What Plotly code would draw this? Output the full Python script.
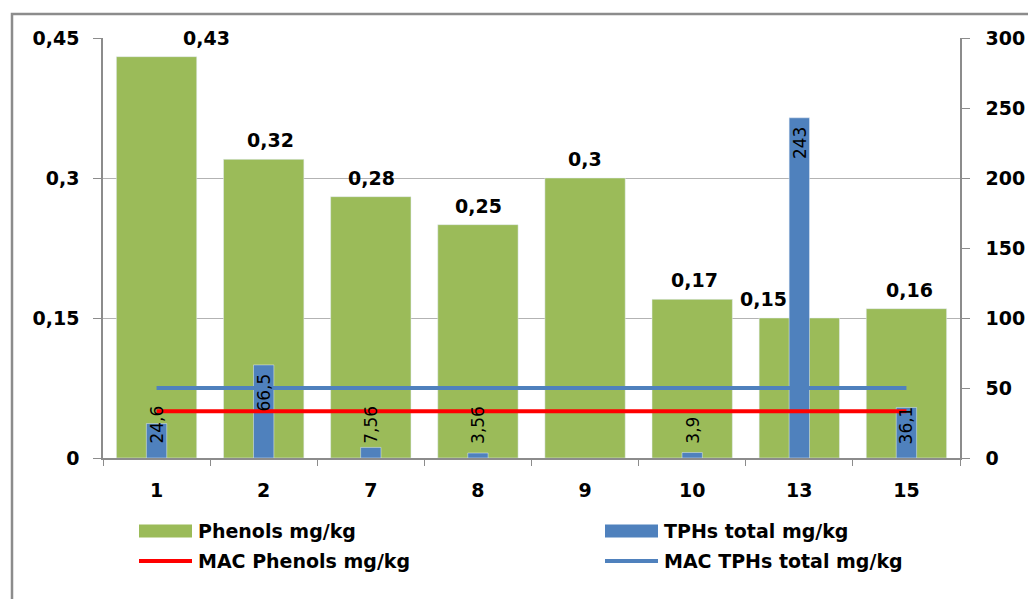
import plotly.graph_objects as go

# ---------------- data ----------------
categories = ["1", "2", "7", "8", "9", "10", "13", "15"]
phenols = [0.43, 0.32, 0.28, 0.25, 0.30, 0.17, 0.15, 0.16]
tphs = [24.6, 66.5, 7.56, 3.56, None, 3.9, 243, 36.1]
mac_phenols = [0.05, 0.05, 0.05, 0.05, 0.05, 0.05, 0.05, 0.05]
mac_tphs = [50, 50, 50, 50, 50, 50, 50, 50]

series_names = ["Phenols mg/kg", "TPHs total mg/kg", "MAC Phenols mg/kg", "MAC TPHs total mg/kg"]

# ---------------- style ----------------
GREEN = "#9BBB59"
BLUE = "#4F81BD"
RED = "#FF0000"
FONT = "DejaVu Sans"
W, H = 1028, 599
L, R, T, B = 103, 68, 38, 141
PW, PH = W - L - R, H - T - B

# label x nudges for phenol labels (pixels), as Excel placed them
phenol_label_shift = [50, 7, 1, 1, 0, 2, -36, 3]


def px_x(px):
    return (px - L) / PW


def px_y(py):
    return (H - B - py) / PH


fig = go.Figure()

fig.add_trace(go.Bar(
    x=categories, y=phenols, name=series_names[0], marker_color=GREEN,
    width=0.75, yaxis="y", showlegend=False,
))
fig.add_trace(go.Bar(
    x=categories, y=tphs, name=series_names[1], marker_color=BLUE,
    width=0.19, yaxis="y2", showlegend=False,
))
fig.add_trace(go.Scatter(
    x=categories, y=mac_tphs, name=series_names[3], mode="lines",
    line=dict(color=BLUE, width=4), yaxis="y2", showlegend=False,
))
fig.add_trace(go.Scatter(
    x=categories, y=mac_phenols, name=series_names[2], mode="lines",
    line=dict(color=RED, width=4), yaxis="y3", showlegend=False,
))

annotations = []
for i, (v, s) in enumerate(zip(phenols, phenol_label_shift)):
    annotations.append(dict(
        x=i, y=v, xref="x", yref="y", text=f"{v:g}".replace(".", ","),
        showarrow=False, yanchor="bottom", xanchor="center", yshift=6, xshift=s,
        font=dict(family=FONT, size=19, color="black", weight="bold"),
    ))

for i, v in enumerate(tphs):
    if v is None:
        continue
    if v >= 50:
        pos = dict(y=v, yanchor="top", yshift=-7)
    else:
        pos = dict(y=0, yanchor="bottom", yshift=12)
    annotations.append(dict(
        x=i, xref="x", yref="y2", text=f"{v:g}".replace(".", ","),
        showarrow=False, xanchor="center", textangle=-90,
        font=dict(family=FONT, size=17, color="black"), **pos,
    ))

# manual legend
legend_items = [
    (series_names[0], "bar", GREEN, 139, 531),
    (series_names[1], "bar", BLUE, 605, 531),
    (series_names[2], "line", RED, 139, 561),
    (series_names[3], "line", BLUE, 605, 561),
]
shapes = []
for name, kind, color, x0, yc in legend_items:
    if kind == "bar":
        shapes.append(dict(type="rect", xref="paper", yref="paper",
                           x0=px_x(x0), x1=px_x(x0 + 53), y0=px_y(yc + 6.5), y1=px_y(yc - 6.5),
                           fillcolor=color, line=dict(width=0)))
    else:
        shapes.append(dict(type="line", xref="paper", yref="paper",
                           x0=px_x(x0), x1=px_x(x0 + 53), y0=px_y(yc), y1=px_y(yc),
                           line=dict(color=color, width=4)))
    annotations.append(dict(
        x=px_x(x0 + 57), y=px_y(yc), xref="paper", yref="paper", text=name,
        showarrow=False, xanchor="left", yanchor="middle",
        font=dict(family=FONT, size=19, color="black", weight="bold"),
    ))

# outer chart border
shapes.append(dict(type="rect", xref="paper", yref="paper", layer="below",
                   x0=px_x(12), x1=px_x(W + 10), y0=px_y(H + 10), y1=px_y(14),
                   line=dict(color="#8c8c8c", width=2.5)))

tick_font = dict(family=FONT, size=19, color="black", weight="bold")

fig.update_layout(
    width=W, height=H,
    margin=dict(l=L, r=R, t=T, b=B, autoexpand=False),
    paper_bgcolor="white", plot_bgcolor="white",
    barmode="overlay",
    separators=", ",
    showlegend=False,
    annotations=annotations,
    shapes=shapes,
    font=dict(family=FONT, color="black"),
    xaxis=dict(
        type="category", tickson="boundaries", ticks="outside", ticklen=6,
        tickcolor="#8c8c8c", showline=True, linecolor="#8c8c8c", linewidth=1.5,
        showgrid=False, tickfont=tick_font, automargin=False,
        ticklabelstandoff=14, range=[-0.5, 7.5],
    ),
    yaxis=dict(
        range=[0, 0.45], dtick=0.15, tick0=0, ticks="outside", ticklen=8,
        tickcolor="#8c8c8c", showline=True, linecolor="#8c8c8c", linewidth=1.5,
        gridcolor="#b3b3b3", gridwidth=1, zeroline=False, automargin=False,
        tickfont=tick_font, ticklabelstandoff=10,
    ),
    yaxis2=dict(
        overlaying="y", side="right", range=[0, 300], dtick=50, tick0=0,
        ticks="outside", ticklen=8, tickcolor="#8c8c8c", showline=True,
        linecolor="#8c8c8c", linewidth=1.5, showgrid=False, zeroline=False,
        tickfont=tick_font, ticklabelstandoff=12, automargin=False,
    ),
    yaxis3=dict(
        overlaying="y", range=[0, 0.45], visible=False,
    ),
)

fig.write_html("out.html")
